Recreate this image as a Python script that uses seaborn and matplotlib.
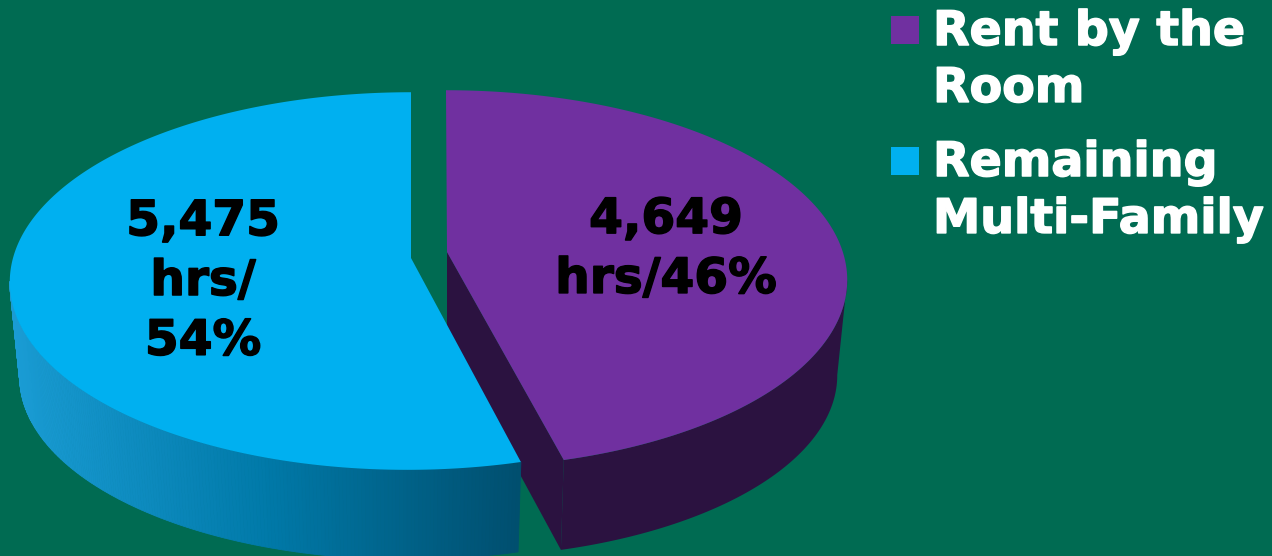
import numpy as np
import matplotlib
matplotlib.use("Agg")
import matplotlib.pyplot as plt
import matplotlib.patheffects as pe
import seaborn as sns

# data
categories = ["Rent by the\nRoom", "Remaining\nMulti-Family"]
hours = [4649, 5475]
slice_labels = ["4,649\nhrs/46%", "5,475\nhrs/\n54%"]

# colours
bg = "#006B52"
top_colors = ["#7030A0", "#00B0F0"]
purple_wall = "#2B1240"
blue_wall = ["#1A9CD4", "#0079A8", "#004E6E"]

sns.set_theme(style="white", rc={"figure.facecolor": bg, "axes.facecolor": bg})
plt.rcParams["font.family"] = ["DejaVu Sans"]

# pie geometry, pixels of the picture
RX = 396
RY = 186
TILT = 0.122        # perspective of the tilted disc
DEPTH = 96
SHRINK_X = 0.975    # bottom face looks a bit smaller
SHRINK_Y = 0.97
apexes = [(447, 252), (411, 258)]
rim_centers = [(446, 256), (411, 258)]
leans = [4, -4]     # the cut edges lean apart a little at the front


def project(center, lean, ang, shrink_x=1.0, shrink_y=1.0, drop=0):
    # ang is clockwise from 12 o'clock, on the round pie
    u = np.sin(ang)
    v = np.cos(ang)
    w = 1 + TILT * v
    x = center[0] + shrink_x * RX * u / w + lean * (1 - v) / 2
    y = center[1] + drop - shrink_y * RY * v / w
    return x, y


def bold_text(x, y, s, color, size, spacing, **kw):
    # Verdana Bold is heavier than DejaVu Bold, thicken the strokes a bit
    ax.text(x, y, s, color=color, fontsize=size, fontweight="bold", linespacing=spacing,
            path_effects=[pe.withStroke(linewidth=1.1, foreground=color)], **kw)


# slice angles come from the values
frac = np.array(hours) / sum(hours)
purple_end = 2 * np.pi * frac[0]
blue_start = -2 * np.pi * frac[1]

fig = plt.figure(figsize=(12.72, 5.56), dpi=100, facecolor=bg)
ax = fig.add_axes([0, 0, 1, 1])
ax.set_xlim(0, 1272)
ax.set_ylim(556, 0)
ax.axis("off")

# purple slice, goes in the back
t = np.linspace(0, purple_end, 200)
x_top, y_top = project(rim_centers[0], leans[0], t)
x_bot, y_bot = project(rim_centers[0], leans[0], t, SHRINK_X, SHRINK_Y, DEPTH)
wall_start = np.argmax(x_top)   # only the part from the right edge round is seen
ax.fill(np.r_[x_top[wall_start:], x_bot[wall_start:][::-1]],
        np.r_[y_top[wall_start:], y_bot[wall_start:][::-1]], color=purple_wall, lw=0)
cut_x = [apexes[0][0], x_top[-1], x_bot[-1], apexes[0][0]]
cut_y = [apexes[0][1], y_top[-1], y_bot[-1], apexes[0][1] + 88]
ax.fill(cut_x, cut_y, color=purple_wall, lw=0)
ax.fill(np.r_[apexes[0][0], x_top], np.r_[apexes[0][1], y_top], color=top_colors[0], lw=0)

# blue slice, outer wall has a left to right gradient
t = np.linspace(blue_start, 0, 400)
x_top, y_top = project(rim_centers[1], leans[1], t)
x_bot, y_bot = project(rim_centers[1], leans[1], t, SHRINK_X, SHRINK_Y, DEPTH)
wall_start = np.argmin(x_top)
shades = sns.blend_palette(blue_wall, n_colors=256)
x_min, x_max = x_top[:wall_start + 1].min(), x_top[:wall_start + 1].max()
for a in range(wall_start, 0, -1):
    b = a - 1
    shade = shades[int(255 * (x_top[a] - x_min) / (x_max - x_min))]
    ax.fill([x_top[a], x_top[b], x_bot[b], x_bot[a]],
            [y_top[a], y_top[b], y_bot[b], y_bot[a]],
            color=shade, lw=0.6, ec=shade)
ax.fill(np.r_[apexes[1][0], x_top], np.r_[apexes[1][1], y_top], color=top_colors[1], lw=0)

# labels on the slices
bold_text(666, 249, slice_labels[0], "black", 35, 1.31, ha="center", va="center")
bold_text(203, 281, slice_labels[1], "black", 35, 1.31, ha="center", va="center")

# legend
legend_y = [30, 161]
for name, col, y in zip(categories, top_colors, legend_y):
    ax.scatter([905], [y], marker="s", s=400, color=col, linewidths=0)
    bold_text(933, y - 20, name, "white", 34.2, 1.34, ha="left", va="top")

fig.savefig("out.png", dpi=100, facecolor=bg)
